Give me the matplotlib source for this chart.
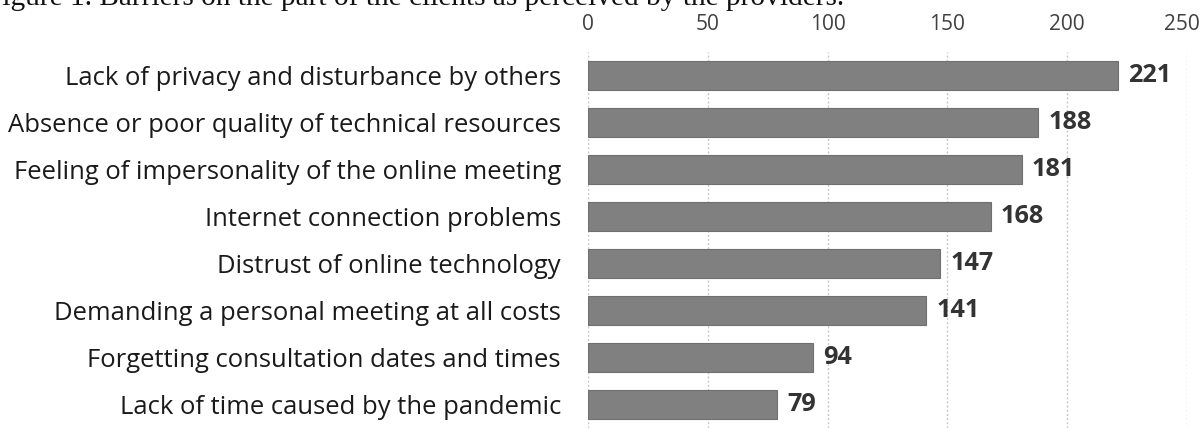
import matplotlib
matplotlib.use("Agg")
import matplotlib.pyplot as plt
import matplotlib.transforms as mtransforms

categories = [
    "Lack of privacy and disturbance by others",
    "Absence or poor quality of technical resources",
    "Feeling of impersonality of the online meeting",
    "Internet connection problems",
    "Distrust of online technology",
    "Demanding a personal meeting at all costs",
    "Forgetting consultation dates and times",
    "Lack of time caused by the pandemic",
]
values = [221, 188, 181, 168, 147, 141, 94, 79]
xticks = [0, 50, 100, 150, 200, 250]
title = "Figure 1. Barriers on the part of the clients as perceived by the providers."

W, H = 1202, 428
FONT = "Open Sans"
fig = plt.figure(figsize=(W / 100, H / 100), dpi=100)
renderer = fig.canvas.get_renderer()


def fit_size(text, target_px, family, weight="normal", base=10):
    t = fig.text(0, 0, text, fontfamily=family, fontsize=base, fontweight=weight)
    w = t.get_window_extent(renderer).width
    t.remove()
    return base * target_px / w


lab_fs = fit_size(categories[1], 552, FONT)
val_fs = fit_size("221", 43, FONT, "bold")
tick_fs = fit_size("100", 36, FONT)
title_fs = fit_size(title, 860, "Liberation Serif")

ax = fig.add_axes([588 / W, 0, (1187 - 588) / W, (428 - 52) / H])

y = list(range(len(categories)))
ax.barh(y, values, height=0.63, color="#808080", edgecolor="#6f6f6f", linewidth=0.8, zorder=3)
ax.set_ylim(len(categories) - 0.5, -0.5)
ax.set_xlim(0, 250)
ax.set_xticks(xticks)
ax.xaxis.tick_top()
ax.set_yticks(y)
ax.set_yticklabels(categories, fontfamily=FONT, fontsize=lab_fs, color="#1a1a1a")
ax.set_xticklabels([str(t) for t in xticks], fontfamily=FONT, fontsize=tick_fs, color="#404040")
ax.tick_params(axis="x", length=0, pad=12)
ax.tick_params(axis="y", length=0, pad=19.5)
ax.grid(axis="x", color="#c8c8c8", linestyle=(0, (1.5, 1.5)), linewidth=1, zorder=0)
for s in ax.spines.values():
    s.set_visible(False)

# last tick label nudged left so it stays inside the image, as in the reference
last = ax.get_xticklabels()[-1]
last.set_transform(last.get_transform() + mtransforms.ScaledTranslation(-5 / 100, 0, fig.dpi_scale_trans))

for yi, v in zip(y, values):
    ax.text(v + 4.3, yi, str(v), va="center", ha="left", fontfamily=FONT,
            fontsize=val_fs, fontweight="bold", color="#333333")

fig.text(-14 / W, 1 - 5 / H, title, fontfamily="Liberation Serif", fontsize=title_fs,
         va="baseline", ha="left", color="#111111")

fig.savefig("out.png", dpi=100)
